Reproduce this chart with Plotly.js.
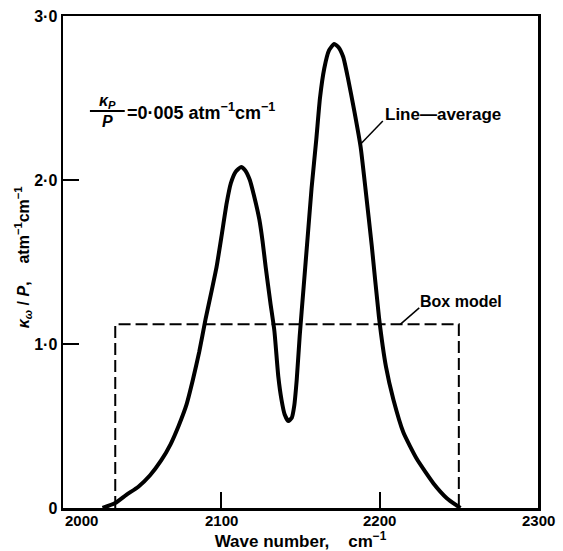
<!DOCTYPE html>
<html>
<head>
<meta charset="utf-8">
<script src="https://cdn.plot.ly/plotly-3.0.1.min.js"></script>
<style>html,body{margin:0;padding:0;background:#fff;}#chart{width:563px;height:551px;}</style>
</head>
<body>
<div id="chart"></div>
<script>
// Line-average absorption curve (wave number cm^-1, kappa/P)
const waveNumber = [2025, 2033, 2040, 2047.6, 2055, 2062, 2068, 2073, 2078, 2082, 2086, 2090, 2094, 2097, 2100, 2103.4, 2106, 2109, 2112.5, 2115, 2118, 2120.5, 2124, 2126, 2128, 2131, 2133.5, 2136, 2138, 2140, 2142.3, 2144.5, 2146, 2147.6, 2149.5, 2152, 2154.5, 2157, 2160, 2162.3, 2165, 2168, 2171.3, 2174, 2177, 2180, 2184, 2188, 2191, 2195, 2199.6, 2204, 2208.7, 2215, 2223.4, 2234, 2242.4, 2248.7, 2251];
const lineAverage = [0, 0.03, 0.08, 0.13, 0.2, 0.29, 0.39, 0.5, 0.63, 0.78, 0.95, 1.15, 1.33, 1.47, 1.65, 1.86, 1.98, 2.05, 2.08, 2.06, 2.0, 1.91, 1.76, 1.63, 1.47, 1.25, 1.08, 0.8, 0.66, 0.57, 0.53, 0.55, 0.62, 0.78, 1.05, 1.35, 1.65, 1.95, 2.25, 2.5, 2.68, 2.79, 2.83, 2.81, 2.75, 2.62, 2.42, 2.2, 1.95, 1.6, 1.16, 0.86, 0.66, 0.46, 0.3, 0.15, 0.06, 0.015, 0];
// Box model
const boxWave = [2033, 2033, 2250, 2250];
const boxKappa = [0, 1.12, 1.12, 0];
// Axis ticks
const xTickVals = [2000, 2100, 2200, 2300];
const xTickText = ['2000', '2100', '2200', '2300'];
const yTickVals = [0, 1, 2, 3];
const yTickText = ['0', '1\u00b70', '2\u00b70', '3\u00b70'];

const FONT = 'Liberation Sans, Arial, sans-serif';
const f = (s) => ({family: FONT, size: s, color: '#000', weight: 'bold'});

const traces = [
  {x: waveNumber, y: lineAverage, mode: 'lines', line: {color: '#000', width: 4, shape: 'spline', smoothing: 0.5}, hoverinfo: 'skip'},
  {x: boxWave, y: boxKappa, mode: 'lines', line: {color: '#000', width: 2, dash: '12px,5px'}, hoverinfo: 'skip'}
];

const annotations = xTickVals.map((v, i) => ({
  x: v, y: 0, xref: 'x', yref: 'y', text: xTickText[i], showarrow: false,
  xanchor: i === 0 ? 'left' : 'center', yanchor: 'top', yshift: -2, font: f(15)
}));

annotations.push(
  {x: -0.086, y: 0.51, xref: 'paper', yref: 'paper', xshift: -12, textangle: -90, showarrow: false,
   text: '<i>\u03ba<sub>\u03c9</sub></i> / <i>P</i>,\u00a0\u00a0\u00a0 atm<sup>\u22121</sup>cm<sup>\u22121</sup>', font: f(16)},
  {x: 2202, y: 2.40, xref: 'x', yref: 'y', xanchor: 'left', showarrow: false, text: 'Line\u2014average', font: f(17)},
  {x: 2224, y: 1.26, xref: 'x', yref: 'y', xanchor: 'left', showarrow: false, text: 'Box model', font: f(16)},
  {x: 2028, y: 2.48, xref: 'x', yref: 'y', showarrow: false, text: '<i>\u03ba<sub>P</sub></i>', font: f(16)},
  {x: 2028, y: 2.355, xref: 'x', yref: 'y', showarrow: false, text: '<i>P</i>', font: f(16)},
  {x: 2039, y: 2.42, xref: 'x', yref: 'y', xanchor: 'left', showarrow: false, text: '=0\u00b7005 atm<sup>\u22121</sup>cm<sup>\u22121</sup>', font: f(18)}
);

const shapes = [
  {type: 'line', xref: 'x', yref: 'y', x0: 2017, x1: 2039, y0: 2.42, y1: 2.42, line: {color: '#000', width: 2}},
  {type: 'line', xref: 'x', yref: 'y', x0: 2188, x1: 2202, y0: 2.22, y1: 2.36, line: {color: '#000', width: 1.5}},
  {type: 'line', xref: 'x', yref: 'y', x0: 2213, x1: 2225, y0: 1.12, y1: 1.22, line: {color: '#000', width: 1.5}}
];

const layout = {
  width: 563, height: 551,
  margin: {l: 63, r: 25, t: 16, b: 43},
  paper_bgcolor: '#fff', plot_bgcolor: '#fff',
  showlegend: false,
  xaxis: {
    range: [2000, 2300], tickvals: xTickVals, ticktext: xTickText, showticklabels: false,
    ticks: 'inside', ticklen: 16, tickwidth: 2, tickcolor: '#000',
    showline: true, mirror: true, linewidth: 2.5, linecolor: '#000',
    showgrid: false, zeroline: false, fixedrange: true,
    title: {text: 'Wave number,\u00a0\u00a0\u00a0 cm<sup>\u22121</sup>', font: f(17), standoff: 28}
  },
  yaxis: {
    range: [0, 3], tickvals: yTickVals, ticktext: yTickText,
    ticks: 'inside', ticklen: 16, tickwidth: 2, tickcolor: '#000',
    tickfont: f(16),
    showline: true, mirror: true, linewidth: 2.5, linecolor: '#000',
    showgrid: false, zeroline: false, fixedrange: true
  },
  annotations: annotations,
  shapes: shapes
};

Plotly.newPlot('chart', traces, layout, {staticPlot: true, displayModeBar: false});
</script>
</body>
</html>
